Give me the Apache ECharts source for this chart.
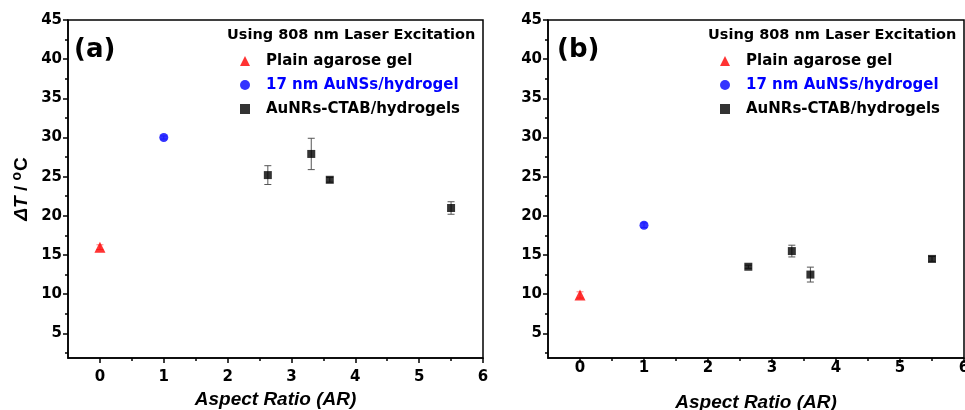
<!DOCTYPE html>
<html><head><meta charset="utf-8">
<script src="https://cdn.jsdelivr.net/npm/echarts@6/dist/echarts.min.js"></script>
<style>html,body{margin:0;padding:0;background:#fff}#c{width:965px;height:410px}</style>
</head><body><div id="c"></div>
<script>
// ---- data ----
const legendTitle = 'Using 808 nm Laser Excitation';
const seriesNames = ['Plain agarose gel', '17 nm AuNSs/hydrogel', 'AuNRs-CTAB/hydrogels'];
const plainX = [0];
const plainA = [16.0], plainErrA = [0.3];
const plainB = [9.9],  plainErrB = [0.4];
const ausX = [1];
const ausA = [30.0], ausErrA = [0.2];
const ausB = [18.8], ausErrB = [0.3];
const nrX = [2.63, 3.31, 3.6, 5.5];
const nrA = [25.2, 27.9, 24.6, 21.0], nrErrA = [1.2, 2.0, 0.3, 0.8];
const nrB = [13.5, 15.5, 12.5, 14.5], nrErrB = [0.2, 0.75, 0.95, 0.3];
const xTicks = [0, 1, 2, 3, 4, 5, 6];
const xMinor = [0.5, 1.5, 2.5, 3.5, 4.5, 5.5];
const yTicks = [5, 10, 15, 20, 25, 30, 35, 40, 45];
const yMinor = [2.5, 7.5, 12.5, 17.5, 22.5, 27.5, 32.5, 37.5, 42.5];
const panelLabels = ['(a)', '(b)'];

const FONT = 'Liberation Sans, Arial, sans-serif';
const WFONT = 'DejaVu Sans, Verdana, sans-serif';
const chart = echarts.init(document.getElementById('c'));

function pts(xs, ys) { return xs.map((x, i) => [x, ys[i]]); }
function errPts(xs, ys, es) { return xs.map((x, i) => [x, ys[i], es[i]]); }

const grids = [
  {left: 68, right: 482, top: 20, bottom: 52, containLabel: false, outerBoundsMode: 'none', show: true, borderColor: '#000', borderWidth: 1.5},
  {left: 548, right: 1, top: 20, bottom: 52, containLabel: false, outerBoundsMode: 'none', show: true, borderColor: '#000', borderWidth: 1.5}
];

const xAxes = [], yAxes = [];
[0, 1].forEach(g => {
  xAxes.push({
    type: 'value', gridIndex: g, min: -0.5, max: 6,
    name: 'Aspect Ratio (AR)', nameLocation: 'middle', nameGap: g === 0 ? 30 : 35,
    nameTextStyle: {fontFamily: FONT, fontWeight: 'bold', fontStyle: 'italic', fontSize: 19, color: '#000'},
    axisLine: {show: true, onZero: false, lineStyle: {color: '#000', width: 1.5}},
    axisTick: {show: true, length: 5, lineStyle: {color: '#000', width: 1.5}, customValues: xTicks},
    axisLabel: {customValues: xTicks, margin: g === 0 ? 12 : 3, fontFamily: WFONT, fontWeight: 'bold', fontSize: 15, color: '#000'},
    splitLine: {show: false}
  });
  xAxes.push({
    type: 'value', gridIndex: g, min: -0.5, max: 6, position: 'bottom',
    axisLine: {show: false, onZero: false},
    axisTick: {show: true, length: 3, lineStyle: {color: '#000', width: 1.5}, customValues: xMinor},
    axisLabel: {show: false}, splitLine: {show: false}
  });
  yAxes.push({
    type: 'value', gridIndex: g, min: 1.85, max: 45,
    name: g === 0 ? '{i|ΔT} {b|/ }{s|o}{b|C}' : '', nameLocation: 'middle', nameGap: 35,
    nameTextStyle: {
      fontFamily: FONT, fontWeight: 'bold', fontSize: 19, color: '#000',
      rich: {
        i: {fontFamily: FONT, fontWeight: 'bold', fontStyle: 'italic', fontSize: 19, color: '#000'},
        b: {fontFamily: FONT, fontWeight: 'bold', fontSize: 19, color: '#000'},
        s: {fontFamily: FONT, fontWeight: 'bold', fontSize: 14, color: '#000', padding: [0, 1, 9, 0]}
      }
    },
    axisLine: {show: true, onZero: false, lineStyle: {color: '#000', width: 1.5}},
    axisTick: {show: true, length: 5, lineStyle: {color: '#000', width: 1.5}, customValues: yTicks},
    axisLabel: {customValues: yTicks, margin: 6, fontFamily: WFONT, fontWeight: 'bold', fontSize: 15, color: '#000'},
    splitLine: {show: false}
  });
  yAxes.push({
    type: 'value', gridIndex: g, min: 1.85, max: 45, position: 'left',
    axisLine: {show: false, onZero: false},
    axisTick: {show: true, length: 3, lineStyle: {color: '#000', width: 1.5}, customValues: yMinor},
    axisLabel: {show: false}, splitLine: {show: false}
  });
});

function errSeries(g, data, color) {
  return {
    type: 'custom', xAxisIndex: g * 2, yAxisIndex: g * 2, z: 1, silent: true,
    data: data,
    renderItem: function (params, api) {
      const x = api.value(0), y = api.value(1), e = api.value(2);
      const hi = api.coord([x, y + e]), lo = api.coord([x, y - e]);
      const w = 3.5;
      const st = {stroke: color, lineWidth: 1};
      return {type: 'group', children: [
        {type: 'line', shape: {x1: hi[0], y1: hi[1], x2: lo[0], y2: lo[1]}, style: st},
        {type: 'line', shape: {x1: hi[0] - w, y1: hi[1], x2: hi[0] + w, y2: hi[1]}, style: st},
        {type: 'line', shape: {x1: lo[0] - w, y1: lo[1], x2: lo[0] + w, y2: lo[1]}, style: st}
      ]};
    }
  };
}

const sets = [
  {plain: plainA, pe: plainErrA, aus: ausA, ae: ausErrA, nr: nrA, ne: nrErrA},
  {plain: plainB, pe: plainErrB, aus: ausB, ae: ausErrB, nr: nrB, ne: nrErrB}
];
const series = [];
sets.forEach((s, g) => {
  series.push(errSeries(g, errPts(plainX, s.plain, s.pe), '#ff8080'));
  series.push(errSeries(g, errPts(ausX, s.aus, s.ae), '#8080ff'));
  series.push(errSeries(g, errPts(nrX, s.nr, s.ne), '#555'));
  series.push({name: seriesNames[0], type: 'scatter', xAxisIndex: g * 2, yAxisIndex: g * 2, z: 3,
    symbol: 'triangle', symbolSize: 11, itemStyle: {color: '#ff0000'}, data: pts(plainX, s.plain)});
  series.push({name: seriesNames[1], type: 'scatter', xAxisIndex: g * 2, yAxisIndex: g * 2, z: 3,
    symbol: 'circle', symbolSize: 9, itemStyle: {color: '#0000ff'}, data: pts(ausX, s.aus)});
  series.push({name: seriesNames[2], type: 'scatter', xAxisIndex: g * 2, yAxisIndex: g * 2, z: 3,
    symbol: 'rect', symbolSize: 8, itemStyle: {color: '#000'}, data: pts(nrX, s.nr)});
});

const legendLefts = [235, 715];
const titleLefts = [227, 708];
const legends = legendLefts.map(l => ({
  orient: 'vertical', left: l, top: 47, itemWidth: 10, itemHeight: 10, itemGap: 6,
  selectedMode: false,
  textStyle: {fontFamily: WFONT, fontWeight: 'bold', fontSize: 15, color: '#000', padding: [0, 0, 0, 11], lineHeight: 18},
  data: [
    {name: seriesNames[0]},
    {name: seriesNames[1], textStyle: {color: '#0000ff'}},
    {name: seriesNames[2]}
  ]
}));

const graphics = [];
titleLefts.forEach((l, i) => {
  graphics.push({type: 'text', left: l, top: 28,
    style: {text: legendTitle, font: 'bold 14.5px ' + WFONT, fill: '#000'}});
});
[74, 557].forEach((l, i) => {
  graphics.push({type: 'text', left: l, top: 37,
    style: {text: panelLabels[i], font: 'bold 26px ' + WFONT, fill: '#000'}});
});

chart.setOption({
  animation: false,
  grid: grids,
  xAxis: xAxes,
  yAxis: yAxes,
  legend: legends,
  graphic: graphics,
  series: series
});
</script></body></html>
